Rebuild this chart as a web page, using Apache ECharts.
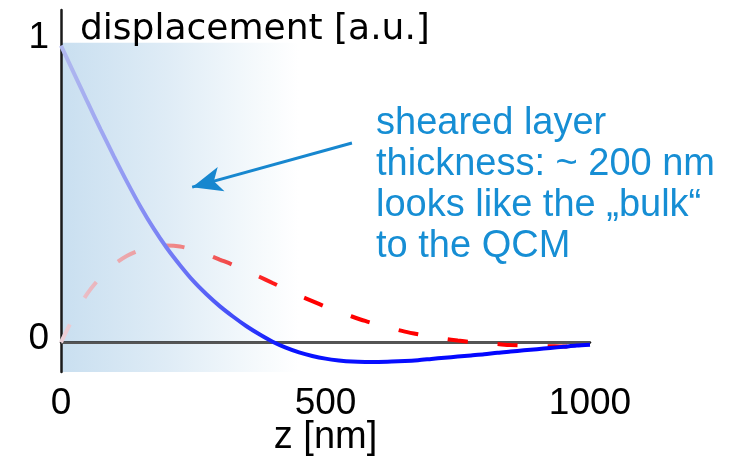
<!DOCTYPE html>
<html>
<head>
<meta charset="utf-8">
<script src="https://cdn.jsdelivr.net/npm/echarts@6/dist/echarts.min.js"></script>
<style>html,body{margin:0;padding:0;background:#fff;}#chart{width:753px;height:475px;}</style>
</head>
<body>
<div id="chart"></div>
<script>
// ---- data ----
const zValues = [0, 25, 50, 75, 100, 125, 150, 175, 200, 225, 250, 275, 300, 325, 350, 375, 400, 425, 450, 475, 500,
  525, 550, 575, 600, 625, 650, 675, 700, 725, 750, 775, 800, 825, 850, 875, 900, 925, 950, 975, 1000];
const realPart = [1.0, 0.905, 0.81, 0.717, 0.627, 0.54, 0.458, 0.384, 0.318, 0.26, 0.207, 0.162, 0.122, 0.087, 0.055, 0.027, 0.002,
  -0.018, -0.034, -0.046, -0.055, -0.061, -0.065, -0.066, -0.066, -0.065, -0.063, -0.06, -0.056, -0.052, -0.048,
  -0.044, -0.04, -0.035, -0.031, -0.027, -0.023, -0.019, -0.015, -0.011, -0.008];
const imagPart = [0.0, 0.09, 0.165, 0.22, 0.262, 0.292, 0.311, 0.322, 0.326, 0.323, 0.312, 0.297, 0.279, 0.261, 0.241, 0.221, 0.2,
  0.179, 0.158, 0.139, 0.12, 0.103, 0.087, 0.072, 0.059, 0.047, 0.036, 0.027, 0.019, 0.012, 0.006,
  0.001, -0.003, -0.006, -0.009, -0.011, -0.012, -0.013, -0.014, -0.014, -0.014];
const xTicks = [0, 500, 1000];
const yTicks = [0, 1];
const shearedLayerEnd = 450;
const arrowFrom = [550, 0.672];
const arrowTo = [248, 0.523];
const annotation = ['sheared layer', 'thickness: ~ 200 nm', 'looks like the \u201Ebulk\u201C', 'to the QCM'];
const xTitle = 'z [nm]';
const yTitle = 'displacement [a.u.]';

const chart = echarts.init(document.getElementById('chart'));
const font = '"Liberation Sans", Arial, sans-serif';
const G = echarts.graphic.LinearGradient;

chart.setOption({
  animation: false,
  backgroundColor: '#ffffff',
  grid: { left: 61, right: 163, top: 10, bottom: 103 },
  xAxis: {
    type: 'value', min: 0, max: 1000, interval: 500,
    name: xTitle, nameLocation: 'middle', nameGap: 47, nameMoveOverlap: false,
    nameTextStyle: { fontFamily: font, fontSize: 38, color: '#000' },
    axisLine: { lineStyle: { color: '#1a1a1a', width: 2.5 } },
    axisTick: { show: false },
    splitLine: { show: false },
    axisLabel: { fontFamily: font, fontSize: 37, color: '#000', margin: 13,
      customValues: xTicks, formatter: v => String(v) }
  },
  yAxis: {
    type: 'value', min: -0.1, max: 1.12,
    name: yTitle, nameLocation: 'end', nameGap: -20, nameMoveOverlap: false,
    nameTextStyle: { fontFamily: '"DejaVu Sans", sans-serif', fontSize: 36, color: '#000', align: 'left', verticalAlign: 'middle', padding: [0, 0, 0, 19] },
    axisLine: { lineStyle: { color: '#1a1a1a', width: 2.5 } },
    axisTick: { show: false },
    splitLine: { show: false },
    axisLabel: { fontFamily: font, fontSize: 37, color: '#000', margin: 12,
      customValues: yTicks,
      formatter: v => (v === 1 ? '{hi|1}' : '{lo|0}'),
      rich: {
        hi: { fontFamily: font, fontSize: 37, color: '#000', padding: [0, 0, 16, 0] },
        lo: { fontFamily: font, fontSize: 37, color: '#000', padding: [0, 0, 8, 0] }
      }
    }
  },
  series: [
    {
      type: 'line', name: 'shade', data: [], silent: true, z: 1,
      markArea: {
        silent: true, z: 0,
        itemStyle: { color: new G(0, 0, 1, 0, [
          { offset: 0, color: '#c9dff0' },
          { offset: 0.45, color: '#dfecf6' },
          { offset: 0.75, color: '#f1f7fb' },
          { offset: 1, color: '#ffffff' }]) },
        data: [[{ xAxis: 0, yAxis: -0.1 }, { xAxis: shearedLayerEnd, yAxis: 1.01 }]]
      },
      markLine: {
        silent: true, symbol: ['none', 'none'], z: 1,
        label: { show: false },
        lineStyle: { color: '#555', width: 2, type: 'solid' },
        data: [{ yAxis: 0 }]
      }
    },
    {
      type: 'line', name: 'real', showSymbol: false, smooth: 0.3, z: 3,
      data: zValues.map((z, i) => [z, realPart[i]]),
      lineStyle: { width: 4, color: new G(0, 0, 1, 0, [
        { offset: 0, color: '#b2baee' },
        { offset: 0.1, color: '#9aa2f2' },
        { offset: 0.22, color: '#7078f5' },
        { offset: 0.32, color: '#4550f8' },
        { offset: 0.42, color: '#0a14ff' },
        { offset: 1, color: '#0000ff' }]) }
    },
    {
      type: 'line', name: 'imag', showSymbol: false, smooth: 0.3, z: 2,
      data: zValues.map((z, i) => [z, imagPart[i]]),
      lineStyle: { width: 4, type: [20, 30], color: new G(0, 0, 1, 0, [
        { offset: 0, color: '#ecd4dc' },
        { offset: 0.06, color: '#eab8c0' },
        { offset: 0.14, color: '#eca2a6' },
        { offset: 0.23, color: '#f08282' },
        { offset: 0.32, color: '#f24848' },
        { offset: 0.4, color: '#ff1a1a' },
        { offset: 0.45, color: '#ff0000' },
        { offset: 1, color: '#ff0000' }]) },
      markLine: {
        silent: true, symbol: ['none', 'arrow'], symbolSize: [19, 30], z: 10,
        label: { show: false },
        lineStyle: { color: '#1787cf', width: 3, type: 'solid' },
        data: [[{ coord: arrowFrom }, { coord: arrowTo }]]
      }
    }
  ],
  graphic: [{
    type: 'text', left: 376, top: 103, silent: true,
    style: { text: annotation.join('\n'), fontFamily: font, fontSize: 38, lineHeight: 41, fill: '#168ed4' }
  }]
});
</script>
</body>
</html>
